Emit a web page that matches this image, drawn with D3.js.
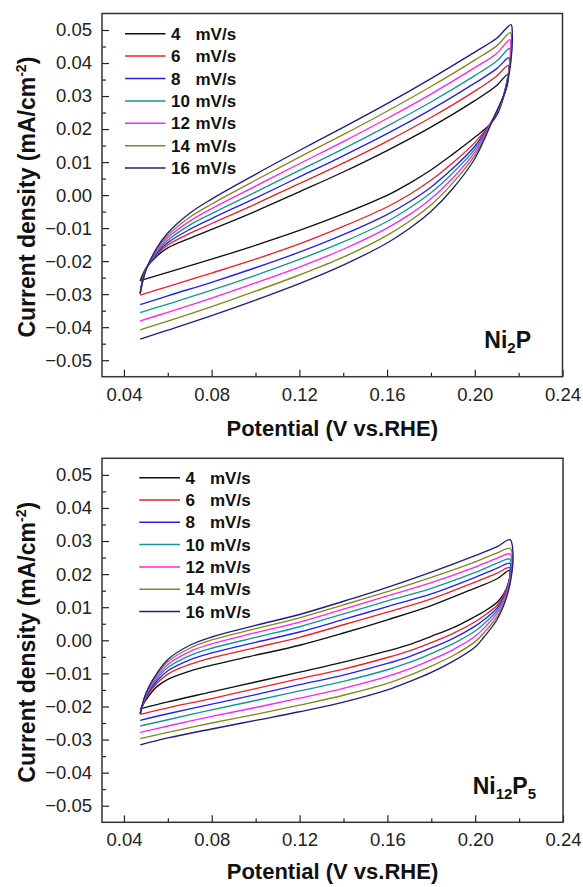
<!DOCTYPE html>
<html><head><meta charset="utf-8">
<script src="https://cdn.jsdelivr.net/npm/d3@7"></script>
<style>body{margin:0;background:#fff} svg{display:block} text{font-family:Arial,"Liberation Sans",sans-serif}</style>
</head><body><svg id="c" width="583" height="887"></svg>
<script>
// ---------- shared ----------
const scanRates = ["4","6","8","10","12","14","16"];
const seriesColors = ["#111111","#ee2222","#2222ee","#129696","#ff22ff","#86861e","#1e1e86"];
const xTicksMajor = [0.04,0.08,0.12,0.16,0.20,0.24];
const xTicksMinor = [0.06,0.10,0.14,0.18,0.22];
const yTicksMajor = [-0.05,-0.04,-0.03,-0.02,-0.01,0,0.01,0.02,0.03,0.04,0.05];
const yTicksMinor = [-0.045,-0.035,-0.025,-0.015,-0.005,0.005,0.015,0.025,0.035,0.045];
const xDomain = [0.03,0.24];
const yDomain = [-0.055,0.055];
const xTitle = "Potential (V vs.RHE)";
const anodicV = [0.0474,0.050,0.055,0.060,0.070,0.080,0.100,0.120,0.140,0.160,0.180,0.200,0.210];
const cathodicV = [0.20,0.19,0.18,0.17,0.16,0.14,0.12,0.10,0.08,0.06,0.0474];

// ---------- Ni2P ----------
const ni2pApexV = [0.2148,0.2152,0.2155,0.2158,0.2160,0.2162,0.2165];
const ni2pAnodicJ = [
  [-0.0260,-0.0222,-0.0185,-0.0160,-0.0131,-0.0104,-0.0049,0.0010,0.0070,0.0135,0.0206,0.0286,0.0332,0.0364],
  [-0.0298,-0.0223,-0.0180,-0.0151,-0.0116,-0.0086,-0.0027,0.0035,0.0097,0.0163,0.0235,0.0315,0.0361,0.0393],
  [-0.0298,-0.0224,-0.0176,-0.0144,-0.0104,-0.0071,-0.0009,0.0055,0.0119,0.0186,0.0259,0.0339,0.0383,0.0416],
  [-0.0298,-0.0225,-0.0172,-0.0137,-0.0091,-0.0056,0.0009,0.0075,0.0140,0.0209,0.0282,0.0362,0.0406,0.0444],
  [-0.0298,-0.0226,-0.0168,-0.0129,-0.0079,-0.0041,0.0027,0.0095,0.0162,0.0232,0.0306,0.0386,0.0429,0.0471],
  [-0.0298,-0.0227,-0.0164,-0.0122,-0.0067,-0.0027,0.0045,0.0115,0.0183,0.0254,0.0329,0.0409,0.0452,0.0492],
  [-0.0298,-0.0228,-0.0160,-0.0115,-0.0055,-0.0012,0.0063,0.0135,0.0205,0.0277,0.0353,0.0433,0.0475,0.0516]
];
const ni2pTurnV = [
  [0.2150,0.2135,0.2105,0.2072],
  [0.2155,0.2143,0.2114,0.2076],
  [0.2159,0.2147,0.2119,0.2078],
  [0.2162,0.2152,0.2124,0.2080],
  [0.2164,0.2156,0.2129,0.2082],
  [0.2168,0.2160,0.2134,0.2085],
  [0.2171,0.2165,0.2140,0.2087]
];
const ni2pTurnJ = [
  [0.0340,0.0305,0.0248,0.0216],
  [0.0377,0.0331,0.0265,0.0221],
  [0.0401,0.0347,0.0276,0.0224],
  [0.0421,0.0361,0.0286,0.0227],
  [0.0442,0.0375,0.0296,0.0230],
  [0.0464,0.0391,0.0306,0.0233],
  [0.0488,0.0407,0.0317,0.0236]
];
const ni2pCathodicJ = [
  [0.0175,0.0124,0.0076,0.0035,-0.0001,-0.0057,-0.0107,-0.0152,-0.0194,-0.0234,-0.0259],
  [0.0159,0.0098,0.0045,0.0001,-0.0036,-0.0095,-0.0148,-0.0194,-0.0236,-0.0277,-0.0303],
  [0.0148,0.0081,0.0024,-0.0021,-0.0059,-0.0120,-0.0173,-0.0220,-0.0264,-0.0305,-0.0332],
  [0.0139,0.0067,0.0007,-0.0040,-0.0080,-0.0142,-0.0195,-0.0243,-0.0288,-0.0330,-0.0356],
  [0.0130,0.0052,-0.0011,-0.0060,-0.0100,-0.0164,-0.0218,-0.0266,-0.0312,-0.0355,-0.0381],
  [0.0120,0.0037,-0.0030,-0.0080,-0.0122,-0.0188,-0.0242,-0.0291,-0.0338,-0.0382,-0.0408],
  [0.0110,0.0020,-0.0050,-0.0102,-0.0145,-0.0212,-0.0268,-0.0318,-0.0365,-0.0409,-0.0436]
];

// ---------- Ni12P5 ----------
const ni12p5ApexV = [0.2156,0.2156,0.2157,0.2157,0.2158,0.2159,0.2159];
const ni12p5AnodicJ = [
  [-0.0210,-0.0180,-0.0140,-0.0118,-0.0093,-0.0075,-0.0045,-0.0015,0.0022,0.0062,0.0105,0.0158,0.0186,0.0211],
  [-0.0222,-0.0175,-0.0130,-0.0102,-0.0073,-0.0053,-0.0022,0.0009,0.0047,0.0085,0.0125,0.0176,0.0203,0.0220],
  [-0.0222,-0.0171,-0.0123,-0.0092,-0.0059,-0.0038,-0.0006,0.0025,0.0063,0.0102,0.0140,0.0190,0.0218,0.0233],
  [-0.0222,-0.0168,-0.0116,-0.0082,-0.0046,-0.0024,0.0009,0.0041,0.0080,0.0119,0.0157,0.0205,0.0233,0.0246],
  [-0.0222,-0.0165,-0.0110,-0.0073,-0.0034,-0.0011,0.0023,0.0055,0.0094,0.0134,0.0174,0.0221,0.0248,0.0261],
  [-0.0222,-0.0162,-0.0104,-0.0065,-0.0024,0.0001,0.0035,0.0068,0.0107,0.0147,0.0190,0.0237,0.0264,0.0278],
  [-0.0222,-0.0160,-0.0100,-0.0058,-0.0015,0.0010,0.0045,0.0078,0.0118,0.0160,0.0206,0.0256,0.0283,0.0304]
];
const ni12p5TurnV = [
  [0.2158,0.2150,0.2130,0.2100,0.2040],
  [0.2160,0.2153,0.2132,0.2100,0.2040],
  [0.2162,0.2155,0.2134,0.2100,0.2040],
  [0.2165,0.2158,0.2137,0.2100,0.2040],
  [0.2167,0.2161,0.2139,0.2099,0.2040],
  [0.2170,0.2164,0.2142,0.2099,0.2040],
  [0.2172,0.2167,0.2144,0.2099,0.2040]
];
const ni12p5TurnJ = [
  [0.0195,0.0170,0.0140,0.0115,0.0087],
  [0.0207,0.0176,0.0139,0.0106,0.0074],
  [0.0217,0.0181,0.0137,0.0098,0.0062],
  [0.0228,0.0186,0.0136,0.0090,0.0050],
  [0.0239,0.0191,0.0135,0.0081,0.0037],
  [0.0251,0.0197,0.0133,0.0071,0.0023],
  [0.0263,0.0203,0.0132,0.0062,0.0010]
];
const ni12p5CathodicJ = [
  [0.0072,0.0038,0.0012,-0.0013,-0.0032,-0.0066,-0.0096,-0.0126,-0.0156,-0.0186,-0.0207],
  [0.0056,0.0021,-0.0007,-0.0032,-0.0052,-0.0087,-0.0116,-0.0146,-0.0176,-0.0204,-0.0224],
  [0.0043,0.0006,-0.0023,-0.0049,-0.0070,-0.0105,-0.0134,-0.0164,-0.0193,-0.0222,-0.0242],
  [0.0028,-0.0010,-0.0040,-0.0067,-0.0089,-0.0124,-0.0153,-0.0182,-0.0210,-0.0240,-0.0259],
  [0.0012,-0.0028,-0.0059,-0.0086,-0.0109,-0.0145,-0.0175,-0.0203,-0.0230,-0.0259,-0.0278],
  [-0.0004,-0.0046,-0.0078,-0.0106,-0.0130,-0.0166,-0.0196,-0.0224,-0.0250,-0.0278,-0.0297],
  [-0.0020,-0.0063,-0.0097,-0.0125,-0.0150,-0.0187,-0.0216,-0.0242,-0.0268,-0.0295,-0.0316]
];

// ---------- drawing ----------
const svg = d3.select("#c");
svg.append("rect").attr("width",583).attr("height",887).attr("fill","#fff");

function drawPanel(cfg){
  const x = d3.scaleLinear().domain(xDomain).range([cfg.left, cfg.right]);
  const y = d3.scaleLinear().domain(yDomain).range([cfg.bottom, cfg.top]);
  const g = svg.append("g");

  // curves
  const line = d3.line().x(d=>x(d[0])).y(d=>y(d[1])).curve(d3.curveCatmullRom.alpha(0.5));
  const curves = g.append("g");
  for(let i=0;i<scanRates.length;i++){
    const pts = [];
    anodicV.forEach((v,k)=>pts.push([v, cfg.anodicJ[i][k]]));
    pts.push([cfg.apexV[i], cfg.anodicJ[i][anodicV.length]]);
    cfg.turnV[i].forEach((v,k)=>pts.push([v, cfg.turnJ[i][k]]));
    cathodicV.forEach((v,k)=>pts.push([v, cfg.cathodicJ[i][k]]));
    curves.append("path").attr("d", line(pts)).attr("fill","none")
      .attr("stroke", seriesColors[i]).attr("stroke-width",1.35).attr("stroke-linejoin","round");
  }

  // axes
  g.append("g").attr("transform",`translate(0,${cfg.bottom})`)
    .call(d3.axisBottom(x).tickValues(xTicksMajor).tickSize(-7).tickPadding(11).tickFormat(d3.format(".2f")));
  g.append("g").attr("transform",`translate(0,${cfg.bottom})`)
    .call(d3.axisBottom(x).tickValues(xTicksMinor).tickSize(-4).tickFormat(""));
  g.append("g").attr("transform",`translate(${cfg.left},0)`)
    .call(d3.axisLeft(y).tickValues(yTicksMajor).tickSize(-7).tickPadding(10).tickFormat(d3.format(".2f")));
  g.append("g").attr("transform",`translate(${cfg.left},0)`)
    .call(d3.axisLeft(y).tickValues(yTicksMinor).tickSize(-4).tickFormat(""));
  g.selectAll(".domain").remove();
  g.selectAll(".tick line").attr("stroke","#222").attr("stroke-width",1.2);
  g.selectAll(".tick text").attr("font-family","Arial, 'Liberation Sans', sans-serif")
    .attr("font-size",18.5).attr("fill","#222");

  // frame
  g.append("rect").attr("x",cfg.left).attr("y",cfg.top)
    .attr("width",cfg.right-cfg.left).attr("height",cfg.bottom-cfg.top)
    .attr("fill","none").attr("stroke","#333").attr("stroke-width",1.5);

  // axis titles
  g.append("text").attr("x",(cfg.left+cfg.right)/2).attr("y",cfg.titleY)
    .attr("text-anchor","middle").attr("font-weight","bold").attr("font-size",22).attr("fill","#111")
    .text(xTitle);
  const yt = g.append("text").attr("transform",`translate(35,${(cfg.top+cfg.bottom)/2 + 2}) rotate(-90)`)
    .attr("text-anchor","middle").attr("font-weight","bold").attr("font-size",23).attr("fill","#111");
  yt.append("tspan").text("Current density (mA/cm");
  yt.append("tspan").attr("font-size",14).attr("dy",-9).text("-2");
  yt.append("tspan").attr("dy",9).text(")");

  // legend
  const lg = g.append("g");
  scanRates.forEach((r,i)=>{
    const ly = cfg.legY + i*cfg.legStep;
    lg.append("line").attr("x1",cfg.legX1).attr("x2",cfg.legX2).attr("y1",ly).attr("y2",ly)
      .attr("stroke",seriesColors[i]).attr("stroke-width",1.5);
    lg.append("text").attr("x",cfg.legX2+5.5).attr("y",ly+6).attr("font-weight","bold")
      .attr("font-size",17).attr("fill","#111").text(r);
    lg.append("text").attr("x",cfg.legX2+30).attr("y",ly+6).attr("font-weight","bold")
      .attr("font-size",17).attr("fill","#111").text("mV/s");
  });

  // sample label
  const t = g.append("text").attr("x",cfg.labelX).attr("y",cfg.labelY).attr("text-anchor","end")
    .attr("font-weight","bold").attr("font-size",23).attr("fill","#111");
  cfg.label.forEach(part=>{
    if(part.sub){ t.append("tspan").attr("font-size",15).attr("dy",5).text(part.s); }
    else { t.append("tspan").attr("dy",part.after? -5:0).text(part.s); }
  });
}

drawPanel({
  left:102, right:562.5, top:13.5, bottom:376.7, titleY:436,
  apexV:ni2pApexV, anodicJ:ni2pAnodicJ, turnV:ni2pTurnV, turnJ:ni2pTurnJ, cathodicJ:ni2pCathodicJ,
  legX1:125, legX2:165.5, legY:33.7, legStep:22.4,
  labelX:531, labelY:348,
  label:[{s:"Ni"},{s:"2",sub:true},{s:"P",after:true}]
});
drawPanel({
  left:102, right:563, top:458.3, bottom:822.3, titleY:879,
  apexV:ni12p5ApexV, anodicJ:ni12p5AnodicJ, turnV:ni12p5TurnV, turnJ:ni12p5TurnJ, cathodicJ:ni12p5CathodicJ,
  legX1:139.3, legX2:180, legY:477.7, legStep:22.3,
  labelX:536, labelY:794,
  label:[{s:"Ni"},{s:"12",sub:true},{s:"P",after:true},{s:"5",sub:true}]
});
</script></body></html>
